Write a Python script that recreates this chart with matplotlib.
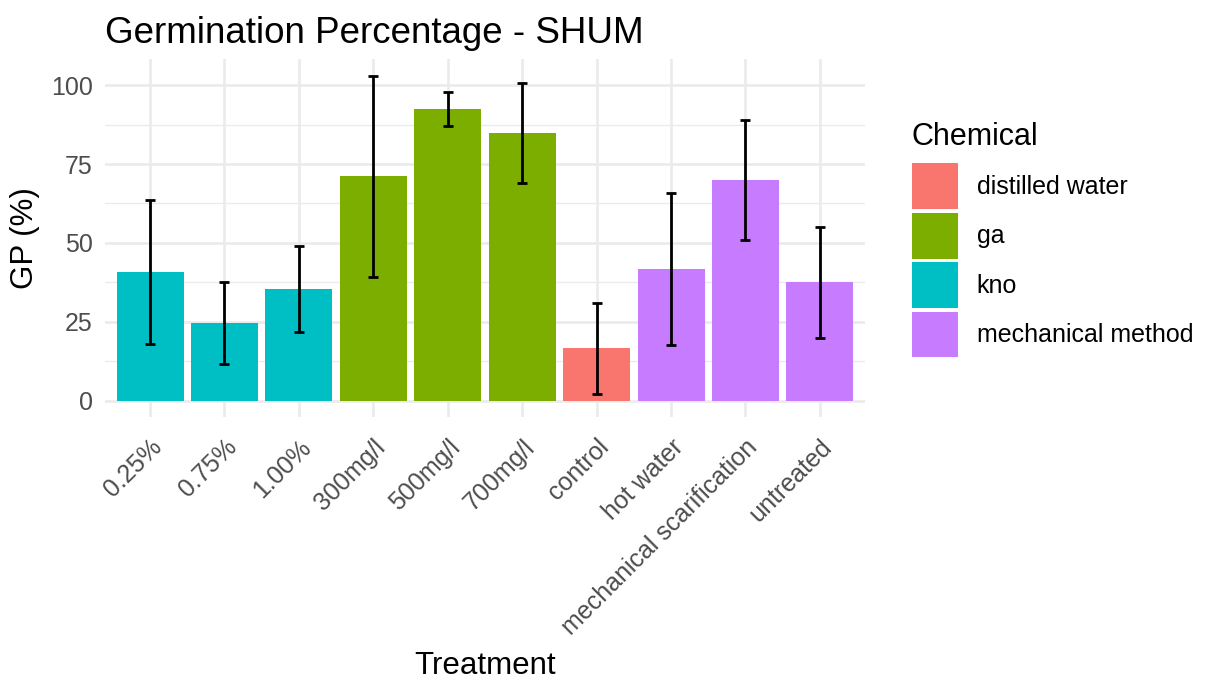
import numpy as np
import matplotlib
matplotlib.use("Agg")
import matplotlib.pyplot as plt
from matplotlib.patches import Patch

plt.rcParams['font.family'] = ['Liberation Sans', 'DejaVu Sans']

# data
treatments = ['0.25%', '0.75%', '1.00%', '300mg/l', '500mg/l', '700mg/l',
              'control', 'hot water', 'mechanical scarification', 'untreated']
chemical = ['kno', 'kno', 'kno', 'ga', 'ga', 'ga',
            'distilled water', 'mechanical method', 'mechanical method', 'mechanical method']
gp_mean = [40.8, 24.6, 35.5, 71.1, 92.5, 84.8, 16.6, 41.7, 69.9, 37.5]
gp_sd = [22.9, 13.0, 13.6, 31.9, 5.4, 15.8, 14.4, 24.2, 19.0, 17.7]

groups = ['distilled water', 'ga', 'kno', 'mechanical method']
group_colors = ['#F8766D', '#7CAE00', '#00BFC4', '#C77CFF']
cmap = dict(zip(groups, group_colors))

fig = plt.figure(figsize=(12.06, 6.82), dpi=100)
ax = fig.add_axes([0.0874, 0.3886, 0.6295, 0.5243])

x = np.arange(len(treatments))
ax.bar(x, gp_mean, width=0.9, color=[cmap[c] for c in chemical], zorder=2)
ax.errorbar(x, gp_mean, yerr=gp_sd, fmt='none', ecolor='black',
            elinewidth=2.0, capsize=3.8, capthick=2.0, zorder=3)

# ggplot-like scales
ax.set_xlim(-0.6, len(treatments) - 0.4)
top = max(m + s for m, s in zip(gp_mean, gp_sd))
ax.set_ylim(-0.05 * top, top * 1.05)
ax.set_yticks([0, 25, 50, 75, 100])
ax.set_yticks([12.5, 37.5, 62.5, 87.5], minor=True)
ax.set_xticks(x)
ax.set_xticklabels(treatments, rotation=45, ha='right', va='top',
                   rotation_mode='anchor')

# theme_minimal look
for s in ax.spines.values():
    s.set_visible(False)
ax.grid(which='major', color='#EBEBEB', linewidth=1.9, zorder=0)
ax.grid(which='minor', axis='y', color='#EBEBEB', linewidth=1.0, zorder=0)
ax.set_axisbelow(True)
ax.tick_params(which='both', length=0)
ax.tick_params(axis='y', labelsize=18, labelcolor='#4D4D4D', pad=9)
ax.tick_params(axis='x', labelsize=18, labelcolor='#4D4D4D', pad=13)

ax.set_xlabel('Treatment', fontsize=22.5, labelpad=8)
ax.set_ylabel('GP (%)', fontsize=22.5, labelpad=8)
ax.set_title('Germination Percentage - SHUM', loc='left', fontsize=26.5, pad=12)

handles = [Patch(facecolor=c, edgecolor='none') for c in group_colors]
leg = fig.legend(handles, groups, loc='upper left', bbox_to_anchor=(0.756, 0.821),
                 frameon=False, fontsize=18, title='Chemical', title_fontsize=22,
                 handlelength=1.84, handleheight=2.45, labelspacing=0.14,
                 handletextpad=0.76, borderpad=0, borderaxespad=0)
leg._legend_box.align = 'left'
leg._legend_box.sep = 8

fig.savefig('out.png', dpi=100)
